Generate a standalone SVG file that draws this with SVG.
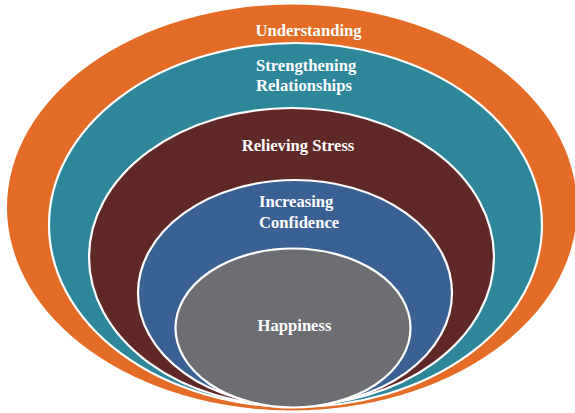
<svg xmlns="http://www.w3.org/2000/svg" width="575" height="413" viewBox="0 0 575 413">
<style>
.ring{stroke:#ffffff;stroke-width:2.2}
.lbl{font-family:"Liberation Serif","Times New Roman",serif;font-weight:bold;font-size:16.6px;fill:#ffffff}
</style>
<rect width="575" height="413" fill="#ffffff"/>
<g id="understanding">
<ellipse cx="292" cy="207.5" rx="285" ry="203" fill="#E46C26"/>
<text class="lbl" x="308.5" y="36" text-anchor="middle">Understanding</text>
</g>
<g id="strengthening-relationships">
<ellipse class="ring" cx="295.5" cy="225" rx="246.5" ry="182" fill="#2E869B"/>
<text class="lbl" x="256" y="71">Strengthening</text>
<text class="lbl" x="256" y="91">Relationships</text>
</g>
<g id="relieving-stress">
<ellipse class="ring" cx="291.5" cy="257" rx="202.5" ry="149" fill="#612828"/>
<text class="lbl" x="298" y="151" text-anchor="middle">Relieving Stress</text>
</g>
<g id="increasing-confidence">
<ellipse class="ring" cx="295" cy="293" rx="157" ry="113" fill="#3A6194"/>
<text class="lbl" x="259" y="207">Increasing</text>
<text class="lbl" x="259" y="228">Confidence</text>
</g>
<g id="happiness">
<ellipse class="ring" cx="293" cy="328" rx="117.5" ry="79.5" fill="#6D6E71"/>
<text class="lbl" x="294.5" y="331" text-anchor="middle">Happiness</text>
</g>
<g id="connectors"></g>
</svg>
